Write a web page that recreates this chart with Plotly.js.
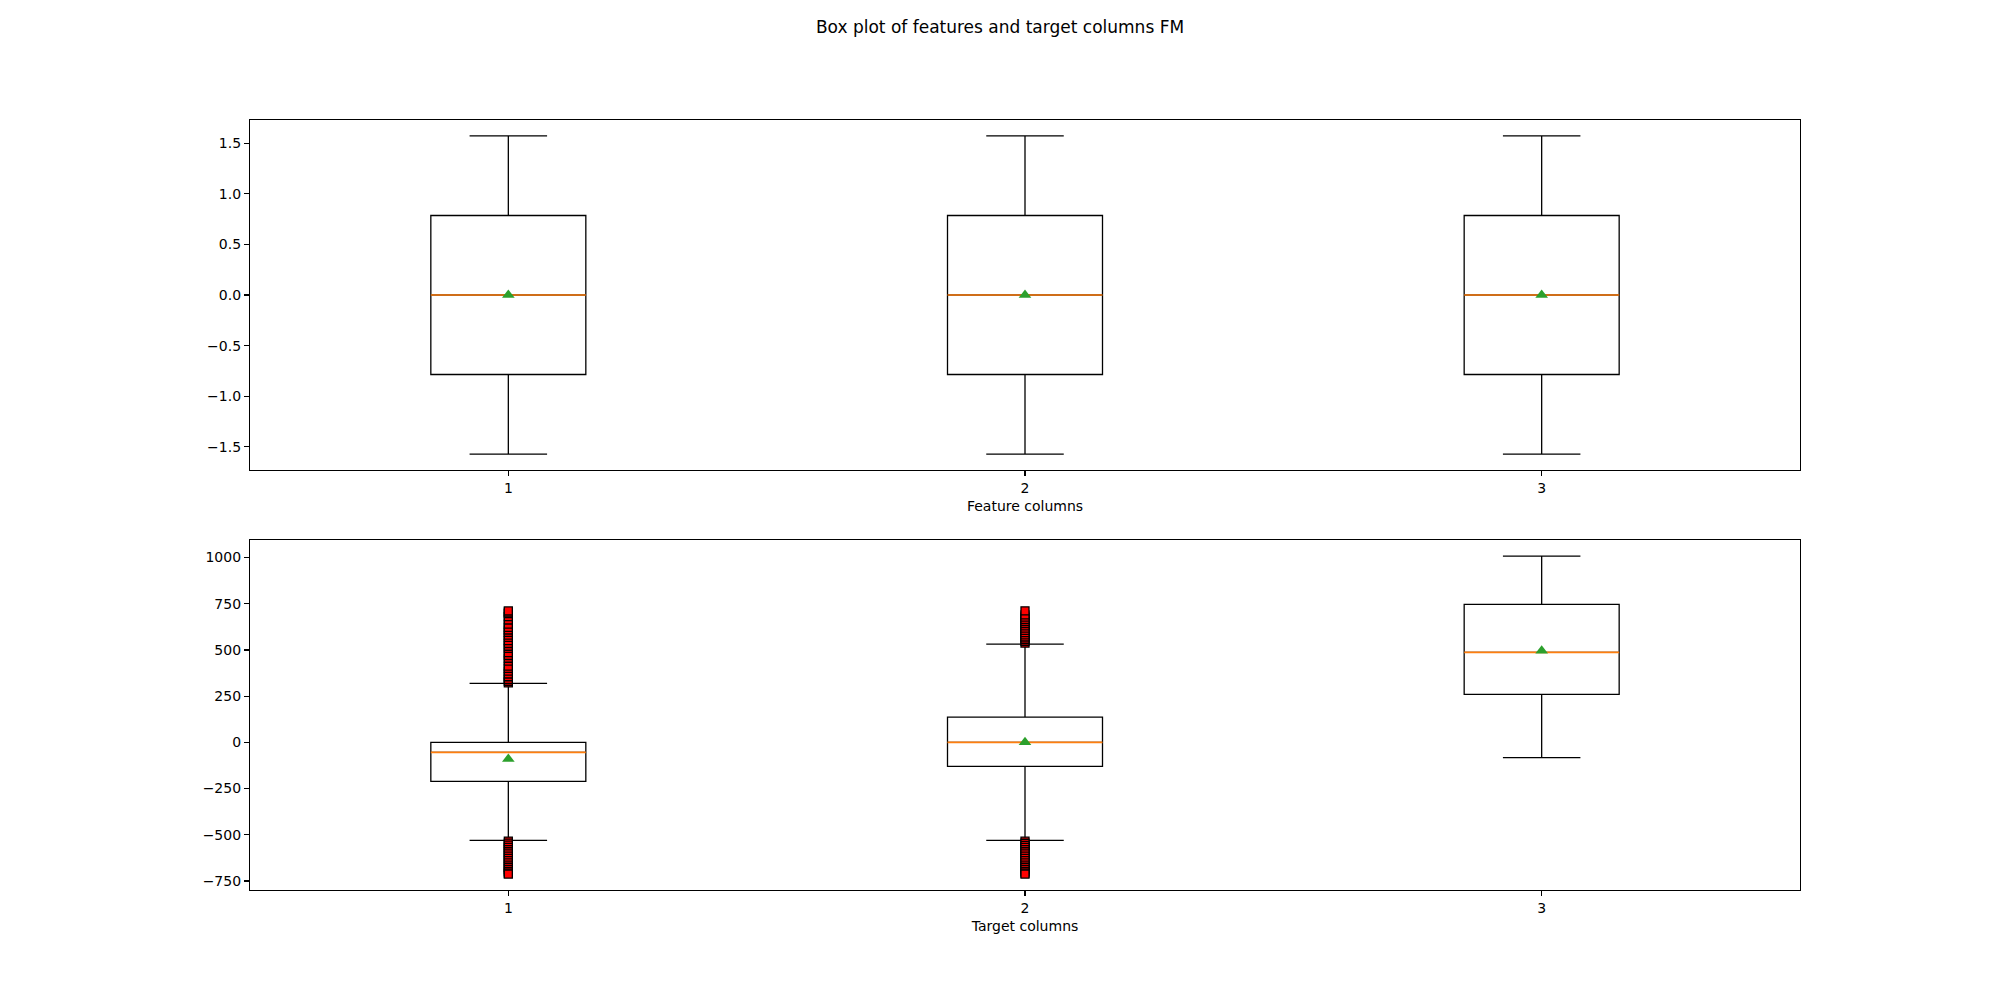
<!DOCTYPE html>
<html><head><meta charset="utf-8">
<script src="https://cdn.plot.ly/plotly-3.0.1.min.js"></script>
<style>html,body{margin:0;padding:0;background:#fff}#chart{width:2000px;height:1000px}</style>
</head><body><div id="chart"></div>
<script>
// ---------- data ----------
const positions = [1, 2, 3];
const xTickLabels = ["1", "2", "3"];

// Feature columns (top panel)
const featLowerFence = [-1.571, -1.571, -1.571];
const featQ1 = [-0.785, -0.785, -0.785];
const featMedian = [0, 0, 0];
const featQ3 = [0.785, 0.785, 0.785];
const featUpperFence = [1.571, 1.571, 1.571];
const featMean = [0, 0, 0];

// Target columns (bottom panel)
const targLowerFence = [-530, -530, -83];
const targQ1 = [-211, -130, 260];
const targMedian = [-54, 0, 487];
const targQ3 = [0, 137, 747];
const targUpperFence = [319, 532, 1008];
const targMean = [-90, 0, 496];

const targOutliers1 = [322, 330, 340, 355, 370, 385, 400, 412, 440, 455, 470, 485, 509, 520, 535, 550, 568, 580, 595, 608, 622, 640, 662, 680, 697, 705, 711,
  -534, -545, -556, -568, -580, -592, -604, -616, -628, -640, -652, -664, -676, -688, -700, -708, -713];
const targOutliers2 = [537, 547, 558, 570, 582, 594, 606, 618, 630, 642, 654, 666, 678, 690, 712,
  -535, -546, -557, -568, -580, -592, -604, -616, -628, -640, -652, -664, -676, -688, -700, -708, -713];
const targOutliers3 = [];

const featTickVals = [-1.5, -1.0, -0.5, 0.0, 0.5, 1.0, 1.5];
const featTickText = ["\u22121.5", "\u22121.0", "\u22120.5", "0.0", "0.5", "1.0", "1.5"];
const targTickVals = [-750, -500, -250, 0, 250, 500, 750, 1000];
const targTickText = ["\u2212750", "\u2212500", "\u2212250", "0", "250", "500", "750", "1000"];

// ---------- styling ----------
const BOX_W = 0.3;
const FONT = "DejaVu Sans";

function boxTrace(xa, ya, lf, q1, med, q3, uf, color, lw) {
  return {
    type: "box", x: positions, q1: q1, median: med, q3: q3,
    lowerfence: lf, upperfence: uf,
    xaxis: xa, yaxis: ya, width: BOX_W, whiskerwidth: 0.5,
    boxpoints: false, fillcolor: "rgba(0,0,0,0)",
    line: {color: color, width: lw}, hoverinfo: "skip", showlegend: false
  };
}
function medianTrace(xa, ya, med) {
  return boxTrace(xa, ya, med, med, med, med, med, "#ff7f0e", 1.7);
}
function meanTrace(xa, ya, mean) {
  return {
    type: "scatter", mode: "markers", x: positions, y: mean,
    xaxis: xa, yaxis: ya, hoverinfo: "skip", showlegend: false,
    marker: {symbol: "triangle-up", size: 11, color: "#2ca02c", line: {width: 0}}
  };
}
const outlierSets = [targOutliers1, targOutliers2, targOutliers3];
const outX = [], outY = [];
outlierSets.forEach((arr, i) => arr.forEach(v => { outX.push(positions[i]); outY.push(v); }));

const traces = [
  boxTrace("x", "y", featLowerFence, featQ1, featMedian, featQ3, featUpperFence, "#000000", 1.3),
  medianTrace("x", "y", featMedian),
  meanTrace("x", "y", featMean),
  boxTrace("x2", "y2", targLowerFence, targQ1, targMedian, targQ3, targUpperFence, "#000000", 1.3),
  medianTrace("x2", "y2", targMedian),
  {
    type: "scatter", mode: "markers", x: outX, y: outY, xaxis: "x2", yaxis: "y2",
    hoverinfo: "skip", showlegend: false,
    marker: {symbol: "square", size: 8, color: "#ff0000", line: {color: "#000000", width: 1.3}}
  },
  meanTrace("x2", "y2", targMean)
];

const axisCommon = {
  showline: true, mirror: true, linecolor: "#000", linewidth: 1.1,
  showgrid: false, zeroline: false, ticks: "outside", ticklen: 5, tickwidth: 1.1,
  tickcolor: "#000", tickfont: {family: FONT, size: 14, color: "#000"}
};

const layout = {
  width: 2000, height: 1000,
  margin: {l: 0, r: 0, t: 0, b: 0},
  paper_bgcolor: "#fff", plot_bgcolor: "#fff",
  boxmode: "overlay", showlegend: false,
  font: {family: FONT, color: "#000"},
  title: {text: "Box plot of features and target columns FM", x: 0.5, xanchor: "center",
          y: 0.973, yanchor: "middle", font: {family: FONT, size: 17, color: "#000"}},
  xaxis: Object.assign({}, axisCommon, {
    domain: [0.125, 0.9], anchor: "y", range: [0.5, 3.5],
    tickvals: positions, ticktext: xTickLabels,
    title: {text: "Feature columns", standoff: 6, font: {family: FONT, size: 14, color: "#000"}}
  }),
  yaxis: Object.assign({}, axisCommon, {
    domain: [0.53, 0.88], anchor: "x", range: [-1.728, 1.728],
    tickvals: featTickVals, ticktext: featTickText
  }),
  xaxis2: Object.assign({}, axisCommon, {
    domain: [0.125, 0.9], anchor: "y2", range: [0.5, 3.5],
    tickvals: positions, ticktext: xTickLabels,
    title: {text: "Target columns", standoff: 6, font: {family: FONT, size: 14, color: "#000"}}
  }),
  yaxis2: Object.assign({}, axisCommon, {
    domain: [0.11, 0.46], anchor: "x2", range: [-799, 1095],
    tickvals: targTickVals, ticktext: targTickText
  })
};

Plotly.newPlot("chart", traces, layout, {staticPlot: true, displayModeBar: false});
</script></body></html>
